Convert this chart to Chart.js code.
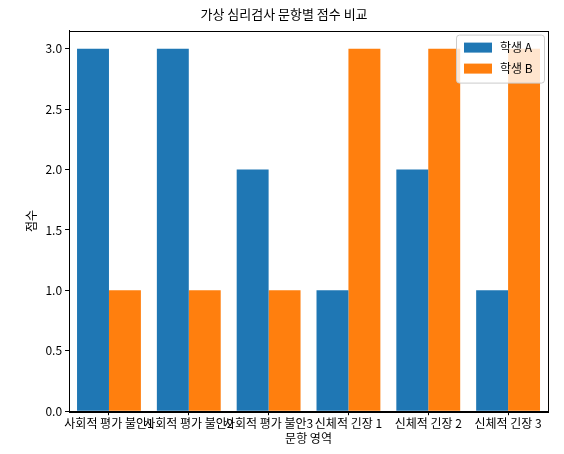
<!DOCTYPE html>
<html><head><meta charset="utf-8">
<script src="https://cdn.jsdelivr.net/npm/chart.js@4"></script>
<style>html,body{margin:0;padding:0;background:#fff}#w{width:564px;height:454px}</style>
</head><body><div id="w"><canvas id="c"></canvas></div>
<script>
const categories = ["사회적 평가 불안1","사회적 평가 불안2","사회적 평가 불안3","신체적 긴장 1","신체적 긴장 2","신체적 긴장 3"];
const studentA = [3,3,2,1,2,1];
const studentB = [1,1,1,3,3,3];
const yTicks = [0,0.5,1,1.5,2,2.5,3];
const F = "'Noto Sans CJK KR','Noto Sans',sans-serif";
Chart.defaults.font.family = F;
Chart.defaults.color = '#000';
const legendPlugin = {
  id:'lg',
  afterDraw(ch){
    const c=ch.ctx, a=ch.chartArea;
    c.save();
    c.strokeStyle='#000';c.lineWidth=1;
    c.strokeRect(Math.round(a.left)+0.5,Math.round(a.top)+0.5,Math.round(a.right-a.left),Math.round(a.bottom-a.top));
    const w=88,h=48,x=a.right-w-4,y=a.top+4;
    c.fillStyle='rgba(255,255,255,0.8)';c.strokeStyle='#ccc';
    c.beginPath();c.roundRect(x+0.5,y+0.5,w,h,3);c.fill();c.stroke();
    const items=[['학생 A','#1f77b4'],['학생 B','#ff7f0e']];
    c.font='12px '+F;c.textBaseline='middle';
    items.forEach((it,i)=>{
      const yy=y+13+i*21;
      c.fillStyle=it[1];c.fillRect(x+8,yy-5,28,10);
      c.fillStyle='#000';c.fillText(it[0],x+44,yy);
    });
    c.restore();
  }
};
new Chart(document.getElementById('c'),{
  type:'bar',
  data:{labels:categories,datasets:[
    {label:'학생 A',data:studentA,backgroundColor:'#1f77b4',categoryPercentage:0.8,barPercentage:1},
    {label:'학생 B',data:studentB,backgroundColor:'#ff7f0e',categoryPercentage:0.8,barPercentage:1}
  ]},
  options:{
    responsive:true,maintainAspectRatio:false,animation:false,
    layout:{padding:{left:20,right:16,top:4,bottom:4}},
    plugins:{legend:{display:false},tooltip:{enabled:false},
      title:{display:true,text:'가상 심리검사 문항별 점수 비교',font:{size:13,weight:'normal'},padding:{top:2,bottom:9}}},
    scales:{
      x:{grid:{display:true,drawOnChartArea:false,tickLength:4,color:'#000',offset:false},border:{color:'#000'},
        ticks:{autoSkip:false,maxRotation:0,minRotation:0,font:{size:12},padding:1},
        title:{display:true,text:'문항 영역',font:{size:12},padding:{top:0}}},
      y:{min:0,max:3.15,grid:{display:true,drawOnChartArea:false,tickLength:4,color:'#000'},border:{color:'#000'},
        afterBuildTicks(ax){ax.ticks=yTicks.map(v=>({value:v}));},
        ticks:{font:{size:12},callback:v=>v.toFixed(1)},
        title:{display:true,text:'점수',font:{size:12}}}
    }
  },
  plugins:[legendPlugin]
});
</script></body></html>
